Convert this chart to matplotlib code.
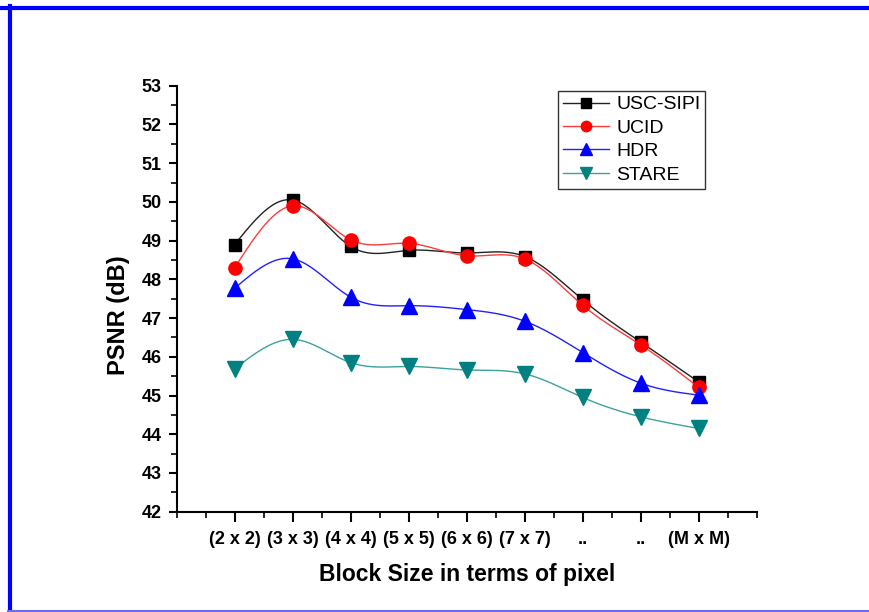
import numpy as np
import matplotlib
matplotlib.use("Agg")
import matplotlib.pyplot as plt
from matplotlib.lines import Line2D
from matplotlib.ticker import MultipleLocator

# data
categories = ["(2 x 2)", "(3 x 3)", "(4 x 4)", "(5 x 5)", "(6 x 6)", "(7 x 7)", "..", "..", "(M x M)"]
usc_sipi = [48.9, 50.05, 48.85, 48.75, 48.68, 48.59, 47.47, 46.38, 45.35]
ucid = [48.3, 49.9, 49.02, 48.93, 48.61, 48.53, 47.33, 46.31, 45.21]
hdr = [47.77, 48.53, 47.54, 47.32, 47.22, 46.92, 46.11, 45.32, 45.01]
stare = [45.69, 46.45, 45.85, 45.75, 45.66, 45.56, 44.95, 44.45, 44.15]


def smooth(x, y, n=300):
    # natural cubic spline, only for drawing the connecting curve
    x = np.asarray(x, float)
    y = np.asarray(y, float)
    k = len(x)
    h = np.diff(x)
    A = np.zeros((k, k))
    b = np.zeros(k)
    A[0, 0] = A[-1, -1] = 1
    for i in range(1, k - 1):
        A[i, i - 1] = h[i - 1]
        A[i, i] = 2 * (h[i - 1] + h[i])
        A[i, i + 1] = h[i]
        b[i] = 3 * ((y[i + 1] - y[i]) / h[i] - (y[i] - y[i - 1]) / h[i - 1])
    c = np.linalg.solve(A, b)
    xs = np.linspace(x[0], x[-1], n)
    idx = np.clip(np.searchsorted(x, xs) - 1, 0, k - 2)
    dx = xs - x[idx]
    bb = (y[idx + 1] - y[idx]) / h[idx] - h[idx] * (2 * c[idx] + c[idx + 1]) / 3
    dd = (c[idx + 1] - c[idx]) / (3 * h[idx])
    ys = y[idx] + bb * dx + c[idx] * dx ** 2 + dd * dx ** 3
    return xs, ys


plt.rcParams['font.family'] = ['Liberation Sans', 'DejaVu Sans']

fig = plt.figure(figsize=(8.69, 6.12), dpi=100)
ax = fig.add_axes([0.2033, 0.1639, 0.6675, 0.696])

x = np.arange(1, len(categories) + 1)
series = [
    ("USC-SIPI", usc_sipi, "#222222", "black", "s", 8.5, 6.5),
    ("UCID", ucid, "#ff3b3b", "red", "o", 9.5, 7.5),
    ("HDR", hdr, "#2020ff", "blue", "^", 11, 8.5),
    ("STARE", stare, "#3aa39b", "#008080", "v", 11, 8.5),
]
handles = []
for name, vals, lc, mc, mk, ms, lms in series:
    xs, ys = smooth(x, vals)
    ax.plot(xs, ys, color=lc, lw=1.0)
    ax.plot(x, vals, ls="none", marker=mk, ms=ms, color=mc, mec=mc)
    handles.append(Line2D([], [], color=lc, lw=1.0, marker=mk, ms=lms,
                          markerfacecolor=mc, markeredgecolor=mc, label=name))

ax.set_xlim(0, 10)
ax.set_ylim(42, 53)
ax.set_xticks(x)
ax.set_xticklabels(categories)
ax.xaxis.set_minor_locator(MultipleLocator(0.5))
ax.yaxis.set_major_locator(MultipleLocator(1))
ax.yaxis.set_minor_locator(MultipleLocator(0.5))
for s in ["top", "right"]:
    ax.spines[s].set_visible(False)
for s in ["left", "bottom"]:
    ax.spines[s].set_linewidth(1.5)
ax.tick_params(which="major", length=6, width=1.5, direction="out", pad=5)
ax.tick_params(which="minor", length=4, width=1.2, direction="out")
ax.tick_params(axis="x", which="major", length=7, pad=7)
for lab in ax.get_xticklabels() + ax.get_yticklabels():
    lab.set_fontweight("bold")
    lab.set_fontsize(13)

ax.set_xlabel("Block Size in terms of pixel", fontsize=16.5, fontweight="bold", labelpad=11)
ax.set_ylabel("PSNR (dB)", fontsize=17, fontweight="bold")
ax.yaxis.set_label_coords(-0.08, 0.462)

leg = ax.legend(handles=handles, loc="upper left", bbox_to_anchor=(0.657, 0.988),
                borderaxespad=0, fontsize=14, frameon=True, fancybox=False,
                edgecolor="black", handlelength=2.4, handletextpad=0.35,
                borderpad=0.25, labelspacing=0.3)
leg.get_frame().set_linewidth(1.0)

# blue frame around the picture
fig.add_artist(Line2D([0, 1], [1 - 8 / 612, 1 - 8 / 612], color="#0000ff", lw=3, transform=fig.transFigure))
fig.add_artist(Line2D([10 / 869, 10 / 869], [0, 1 - 6 / 612], color="#0000ff", lw=3, transform=fig.transFigure))
fig.add_artist(Line2D([8 / 869, 1], [1.5 / 612, 1.5 / 612], color="#6b6bf0", lw=1.5, transform=fig.transFigure))

fig.savefig("out.png", dpi=100)
